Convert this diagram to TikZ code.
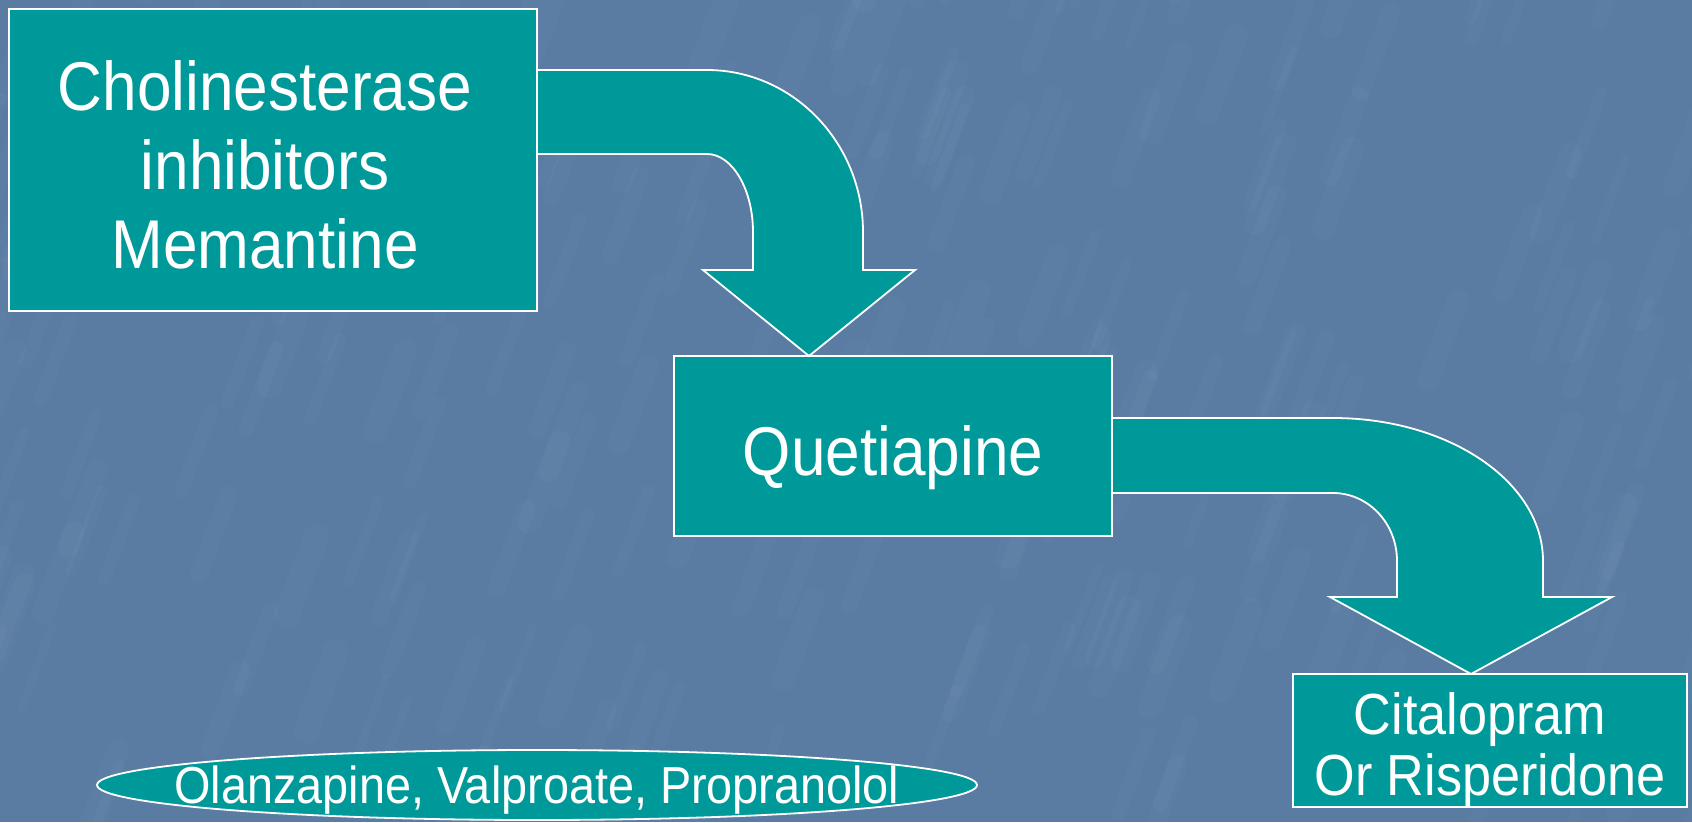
\documentclass[tikz,border=0pt]{standalone}
\usepackage{fontspec}
\setmainfont[FakeStretch=0.9]{Liberation Sans}
\usetikzlibrary{shapes.geometric}
\definecolor{slide}{RGB}{90,123,162}
\definecolor{tealbox}{RGB}{0,153,153}

\begin{document}
\begin{tikzpicture}[x=1pt,y=-1pt,
  box/.style={draw=white,fill=tealbox,line width=1.8pt,inner sep=0pt,
    outer sep=0pt},
  boxtext/.style={text=white,align=center,inner sep=0pt},
  bendarrow/.style={draw=white,fill=tealbox,line width=1.8pt,line join=miter}]
  \clip (0,0) rectangle (1692,822);
  \fill[slide] (0,0) rectangle (1692,822);
  % faint marbled patches of the slide background
  \pgfmathsetseed{11}
  \foreach \i in {1,...,260}{
    \pgfmathsetmacro\xa{rnd*1760-40}
    \pgfmathsetmacro\ya{rnd*880-20}
    \pgfmathsetmacro\wd{8+rnd*18}
    \draw[white,opacity=0.025,line width=\wd pt,line cap=round]
      (\xa,\ya) -- ++(30,-80);
  }
  % the four drug boxes
  \node[box,minimum width=528pt,minimum height=302pt,
    label={[boxtext,xshift=-8pt,yshift=-5pt,
      font=\fontsize{69}{79}\selectfont]center:{Cholinesterase\\inhibitors\\Memantine}}]
    (chol) at (273,160) {};
  \node[box,minimum width=438pt,minimum height=180pt,
    label={[boxtext,yshift=-12pt,font=\fontsize{69}{79}\selectfont]center:Quetiapine}]
    (quet) at (893,446) {};
  \node[box,minimum width=394pt,minimum height=133pt,
    label={[boxtext,yshift=-9pt,
      font=\fontsize{58}{61}\selectfont]center:{Citalopram\kern20pt\\Or Risperidone}}]
    (cita) at (1490,740.5) {};
  \node[box,ellipse,minimum width=880pt,minimum height=70pt,
    label={[boxtext,yshift=-5pt,font=\fontsize{52}{60}\selectfont]center:{Olanzapine, Valproate, Propranolol}}]
    (olan) at (537,785) {};
  % bent arrows between the boxes
  \draw[bendarrow] (chol.east |- 0,70) -- (707,70)
    .. controls (793,70) and (863,143) .. (863,232) -- (863,270)
    -- (915,270) -- (809,0 |- quet.north) -- (703,270) -- (753,270)
    -- (753,232) .. controls (753,189) and (732,154) .. (707,154)
    -- (chol.east |- 0,154) -- cycle;
  \draw[bendarrow] (quet.east |- 0,418) -- (1333,418)
    .. controls (1449,418) and (1543,482) .. (1543,561) -- (1543,597)
    -- (1612,597) -- (1471,0 |- cita.north) -- (1330,597) -- (1397,597)
    -- (1397,561) .. controls (1397,523) and (1368,493) .. (1333,493)
    -- (quet.east |- 0,493) -- cycle;
\end{tikzpicture}
\end{document}
